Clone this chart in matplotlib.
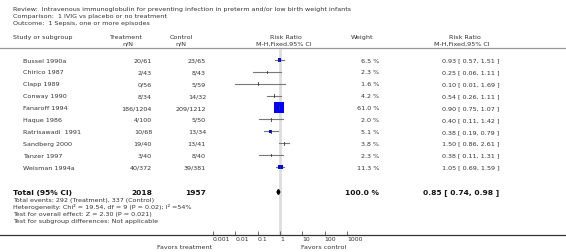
import numpy as np
import matplotlib
matplotlib.use("Agg")
import matplotlib.pyplot as plt

# ---- data ----
studies = ["Bussel 1990a", "Chirico 1987", "Clapp 1989", "Conway 1990", "Fanaroff 1994",
           "Haque 1986", "Ratrisawadi  1991", "Sandberg 2000", "Tanzer 1997", "Weisman 1994a"]
treat_nN = ["20/61", "2/43", "0/56", "8/34", "186/1204", "4/100", "10/68", "19/40", "3/40", "40/372"]
ctrl_nN = ["23/65", "8/43", "5/59", "14/32", "209/1212", "5/50", "13/34", "13/41", "8/40", "39/381"]
weights = [6.5, 2.3, 1.6, 4.2, 61.0, 2.0, 5.1, 3.8, 2.3, 11.3]
rr = [0.93, 0.25, 0.10, 0.54, 0.90, 0.40, 0.38, 1.50, 0.38, 1.05]
rr_lo = [0.57, 0.06, 0.01, 0.26, 0.75, 0.11, 0.19, 0.86, 0.11, 0.69]
rr_hi = [1.51, 1.11, 1.69, 1.11, 1.07, 1.42, 0.79, 2.61, 1.31, 1.59]
total_treat = "2018"
total_ctrl = "1957"
total_rr, total_lo, total_hi = 0.85, 0.74, 0.98
total_weight = 100.0
tick_vals = [0.001, 0.01, 0.1, 1, 10, 100, 1000]
tick_labels = ["0.001", "0.01", "0.1", "1", "10", "100", "1000"]
header_lines = ["Review:  Intravenous immunoglobulin for preventing infection in preterm and/or low birth weight infants",
                "Comparison:  1 IVIG vs placebo or no treatment",
                "Outcome:  1 Sepsis, one or more episodes"]
footer_lines = ["Total events: 292 (Treatment), 337 (Control)",
                "Heterogeneity: Chi² = 19.54, df = 9 (P = 0.02); I² =54%",
                "Test for overall effect: Z = 2.30 (P = 0.021)",
                "Test for subgroup differences: Not applicable"]

W, H = 566, 253
DPI = 100
plt.rcParams['font.family'] = ['DejaVu Sans']
fig = plt.figure(figsize=(W / DPI, H / DPI), dpi=DPI)
fig.patch.set_facecolor("white")

# background axes in pixel coordinates (y down)
bg = fig.add_axes([0, 0, 1, 1])
bg.set_xlim(0, W)
bg.set_ylim(H, 0)
bg.axis("off")

fs = 4.6
tc = "#333333"

for i, line in enumerate(header_lines):
    bg.text(13, 9 + i * 7, line, fontsize=fs, color=tc, va="center", ha="left")

# column headers
bg.text(13, 37, "Study or subgroup", fontsize=fs, color=tc, va="center")
bg.text(125, 37, "Treatment", fontsize=fs, color=tc, va="center", ha="center")
bg.text(128, 44, "n/N", fontsize=fs, color=tc, va="center", ha="center")
bg.text(181, 37, "Control", fontsize=fs, color=tc, va="center", ha="center")
bg.text(181, 44, "n/N", fontsize=fs, color=tc, va="center", ha="center")
bg.text(286, 37, "Risk Ratio", fontsize=fs, color=tc, va="center", ha="center")
bg.text(284, 44, "M-H,Fixed,95% CI", fontsize=fs, color=tc, va="center", ha="center")
bg.text(362, 37, "Weight", fontsize=fs, color=tc, va="center", ha="center")
bg.text(465, 37, "Risk Ratio", fontsize=fs, color=tc, va="center", ha="center")
bg.text(462, 44, "M-H,Fixed,95% CI", fontsize=fs, color=tc, va="center", ha="center")
bg.plot([0, W], [49, 49], color="#999999", lw=0.9)

row0, dy = 61, 11.9
rows_y = [row0 + i * dy for i in range(len(studies))]
for y, s, t, c, w, r, lo, hi in zip(rows_y, studies, treat_nN, ctrl_nN, weights, rr, rr_lo, rr_hi):
    bg.text(23, y, s, fontsize=fs, color=tc, va="center")
    bg.text(152, y, t, fontsize=fs, color=tc, va="center", ha="right")
    bg.text(206, y, c, fontsize=fs, color=tc, va="center", ha="right")
    bg.text(379, y, f"{w:.1f} %", fontsize=fs, color=tc, va="center", ha="right")
    bg.text(442, y, f"{r:.2f} [ {lo:.2f}, {hi:.2f} ]", fontsize=fs, color=tc, va="center", ha="left")

ty = 193
fsb = 5.4
bg.text(13, ty, "Total (95% CI)", fontsize=fsb, weight="bold", color="#111111", va="center")
bg.text(152, ty, total_treat, fontsize=fsb, weight="bold", color="#111111", va="center", ha="right")
bg.text(206, ty, total_ctrl, fontsize=fsb, weight="bold", color="#111111", va="center", ha="right")
bg.text(379, ty, f"{total_weight:.1f} %", fontsize=fsb, weight="bold", color="#111111", va="center", ha="right")
bg.text(499, ty, f"{total_rr:.2f} [ {total_lo:.2f}, {total_hi:.2f} ]", fontsize=fsb, weight="bold",
        color="#111111", va="center", ha="right")
for i, line in enumerate(footer_lines):
    bg.text(13, 200.5 + i * 7, line, fontsize=fs, color=tc, va="center")

# forest axes
top_px, bot_px = 50, 236
ax = fig.add_axes([0, (H - bot_px) / H, 1, (bot_px - top_px) / H])
ax.patch.set_alpha(0)
x1_px, dec_px = 280, 22.3
ax.set_xscale("log")
ax.set_xlim(10 ** (-x1_px / dec_px), 10 ** ((W - x1_px) / dec_px))
ax.set_ylim(bot_px, top_px)
for sp in ["top", "left", "right"]:
    ax.spines[sp].set_visible(False)
ax.spines["bottom"].set_color("#333333")
ax.spines["bottom"].set_linewidth(0.9)
ax.set_yticks([])
ax.set_xticks(tick_vals)
ax.set_xticklabels(tick_labels, fontsize=4.4, color=tc, ha="left")
ax.minorticks_off()
ax.tick_params(axis="x", direction="in", length=3, width=0.6, color="#555555", pad=1.0)

ax.axvline(1, color="#dddddd", lw=2, zorder=0)

for y, w, r, lo, hi in zip(rows_y, weights, rr, rr_lo, rr_hi):
    ax.plot([lo, hi], [y, y], color="#777777", lw=0.8, zorder=2)
    side_px = 1.35 * np.sqrt(w)
    if w >= 5:
        ax.scatter([r], [y], marker="s", s=(side_px * 72 / DPI) ** 2, color="#0000ff",
                   edgecolors="none", zorder=3)
    ax.plot([r, r], [y - 1.3, y + 1.3], color="#333333", lw=0.6, zorder=4)

# total diamond
ax.fill([total_lo, total_rr, total_hi, total_rr], [ty, ty - 2.5, ty, ty + 2.5],
        color="black", zorder=3)

bg.text(212, 247.5, "Favors treatment", fontsize=fs, color=tc, va="center", ha="right")
bg.text(301, 247.5, "Favors control", fontsize=fs, color=tc, va="center", ha="left")

fig.savefig("out.png", dpi=DPI)
